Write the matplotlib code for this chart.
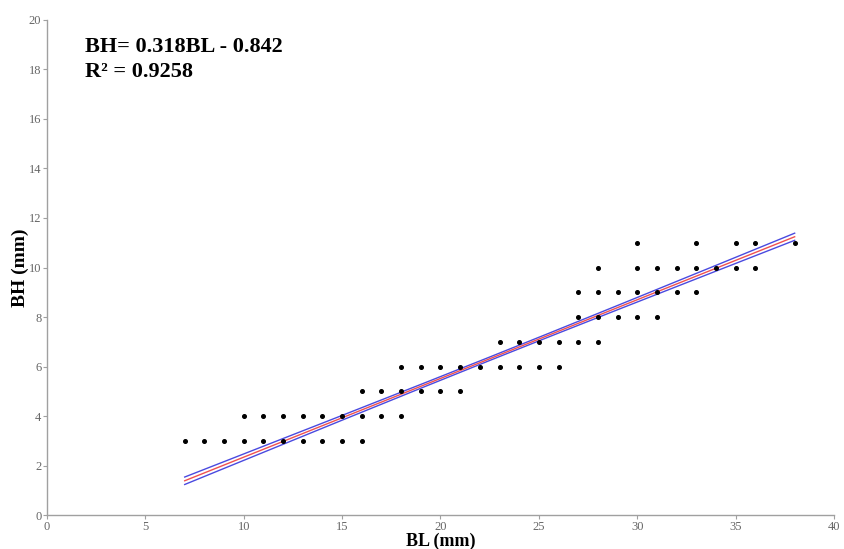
import numpy as np
import matplotlib
matplotlib.use("Agg")
import matplotlib.pyplot as plt

# Data: (BL, BH) points grouped by BH value
bh_levels = [3, 4, 5, 6, 7, 8, 9, 10, 11]
bl_by_level = [
    [7, 8, 9, 10, 11, 12, 13, 14, 15, 16],
    [10, 11, 12, 13, 14, 15, 16, 17, 18],
    [16, 17, 18, 19, 20, 21],
    [18, 19, 20, 21, 22, 23, 24, 25, 26],
    [23, 24, 25, 26, 27, 28],
    [27, 28, 29, 30, 31],
    [27, 28, 29, 30, 31, 32, 33],
    [28, 30, 31, 32, 33, 34, 35, 36],
    [30, 33, 35, 36, 38],
]
slope = 0.318
intercept = -0.842
r2_text = "0.9258"
x_ticks = [0, 5, 10, 15, 20, 25, 30, 35, 40]
y_ticks = [0, 2, 4, 6, 8, 10, 12, 14, 16, 18, 20]

bl = np.concatenate([np.array(v, float) for v in bl_by_level])
bh = np.concatenate([np.full(len(v), lv, float) for v, lv in zip(bl_by_level, bh_levels)])

fig = plt.figure(figsize=(8.45, 5.49), dpi=100)
ax = fig.add_axes([0.0556, 0.0619, 0.9314, 0.9017])

ax.plot(bl, bh, 'o', color='black', markersize=2.6, zorder=5)

# Regression line with confidence band
xs = np.linspace(bl.min(), bl.max(), 200)
yhat = slope * xs + intercept
n = len(bl)
resid = bh - (slope * bl + intercept)
s = np.sqrt(np.sum(resid ** 2) / (n - 2))
sxx = np.sum((bl - bl.mean()) ** 2)
se = s * np.sqrt(1.0 / n + (xs - bl.mean()) ** 2 / sxx)
ci = 0.65 * se
ax.plot(xs, yhat + ci, color='#4a4ae0', lw=1.0, zorder=3)
ax.plot(xs, yhat - ci, color='#4a4ae0', lw=1.0, zorder=3)
ax.plot(xs, yhat, color='#f05050', lw=1.0, zorder=4)

ax.set_xlim(0, 40)
ax.set_ylim(0, 20)
ax.set_xticks(x_ticks)
ax.set_yticks(y_ticks)
for sp in ['top', 'right']:
    ax.spines[sp].set_visible(False)
for sp in ['left', 'bottom']:
    ax.spines[sp].set_color('#a0a0a0')
    ax.spines[sp].set_linewidth(1.0)
ax.tick_params(axis='both', colors='#a0a0a0', length=3, width=0.8, labelsize=9,
               labelcolor='#666666', pad=1)
for lab in ax.get_xticklabels() + ax.get_yticklabels():
    lab.set_family('Liberation Serif')

ax.set_xlabel('BL (mm)', family='Liberation Serif', fontweight='bold', fontsize=13, labelpad=0)
ax.set_ylabel('BH (mm)', family='Liberation Serif', fontweight='bold', fontsize=14, labelpad=0)

fig.text(85 / 845, 1 - 47 / 549, 'BH= 0.318BL - 0.842', family='Liberation Serif',
         fontweight='bold', fontsize=16, va='center', ha='left')
fig.text(85 / 845, 1 - 72 / 549, 'R\u00b2 = ' + r2_text, family='Liberation Serif',
         fontweight='bold', fontsize=16, va='center', ha='left')

fig.savefig('out.png', dpi=100)
